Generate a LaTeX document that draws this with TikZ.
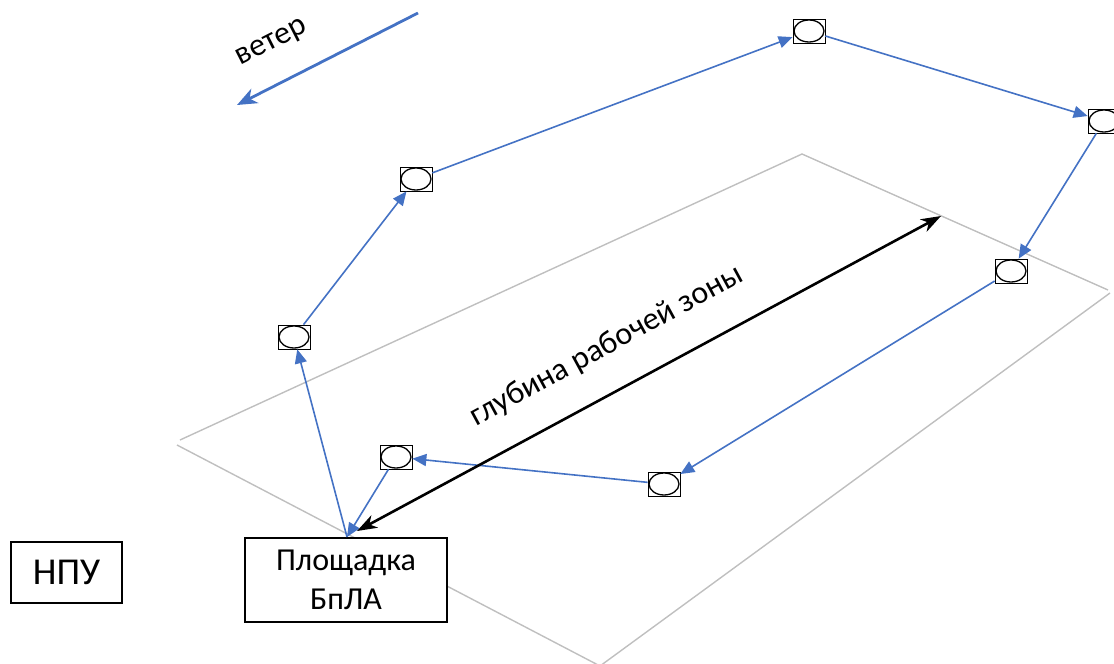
\documentclass[tikz,border=0pt]{standalone}
\usepackage{fontspec}
\setmainfont{Carlito}
\usetikzlibrary{arrows.meta}
\definecolor{bl}{RGB}{68,114,196}
\definecolor{gr}{RGB}{191,191,191}
\begin{document}
\begin{tikzpicture}[x=1pt,y=-1pt,
  wp/.style={draw, line width=0.7pt, minimum width=32pt, minimum height=24pt, inner sep=0pt,
    path picture={\draw[line width=1.3pt] (path picture bounding box.center) ellipse [x radius=15pt, y radius=11pt];}},
  route/.style={draw=bl, line width=1.6pt, -{Triangle[length=14pt,width=12pt]}},
  plane/.style={draw=gr, line width=1.4pt},
  box/.style={draw, line width=1.8pt, align=center, inner sep=0pt},
  lbl/.style={font=\fontsize{32}{38}\selectfont, inner sep=0pt},
  depth/.style={draw=black, line width=2.6pt, {Stealth[length=20pt,width=14pt,inset=6pt]}-{Stealth[length=20pt,width=14pt,inset=6pt]}},
  wind/.style={draw=bl, line width=2.8pt, -{Stealth[length=20pt,width=16pt,inset=6pt]}}
]
\useasboundingbox (0,0) rectangle (1114,664);
\clip (0,0) rectangle (1114,664);
% plane
\draw[plane] (180,440) -- (802,154) -- (1108,290);
\draw[plane] (177,445) -- (600,666) -- (1110,293);
% boxes
\node[box, font=\fontsize{38}{44}\selectfont, minimum width=111pt, minimum height=61pt] (npu) at (66.5,572.5) {НПУ};
\node[box, font=\fontsize{32}{39}\selectfont, fill=white, minimum width=202pt, minimum height=84pt] (pl) at (346,580) {Площадка\\БпЛА};
\coordinate (ptop) at (347,537);
% waypoints
\node[wp] (w1) at (294,337) {};
\node[wp] (w2) at (416,179) {};
\node[wp] (w3) at (809,31) {};
\node[wp] (w4) at (1104,121) {};
\node[wp] (w5) at (1011,271) {};
\node[wp] (w6) at (664,484) {};
\node[wp] (w7) at (396,457) {};
% route
\draw[route] (ptop) -- (w1);
\draw[route] (w1) -- (w2);
\draw[route] (w2) -- (w3);
\draw[route] (w3) -- (w4);
\draw[route] (w4) -- (w5);
\draw[route] (w5) -- (w6);
\draw[route] (w6) -- (w7);
\draw[route] (w7) -- (ptop);
% depth
\coordinate (dA) at (357,531);
\coordinate (dB) at (941,216);
\draw[depth] (dA) -- (dB);
\node[lbl, rotate=28.5] (dl) at (607,346) {глубина рабочей зоны};
% wind
\coordinate (wa) at (418,13);
\coordinate (wb) at (237,105);
\draw[wind] (wa) -- (wb);
\node[lbl, rotate=27] (wl) at (272,44) {ветер};
\end{tikzpicture}
\end{document}
